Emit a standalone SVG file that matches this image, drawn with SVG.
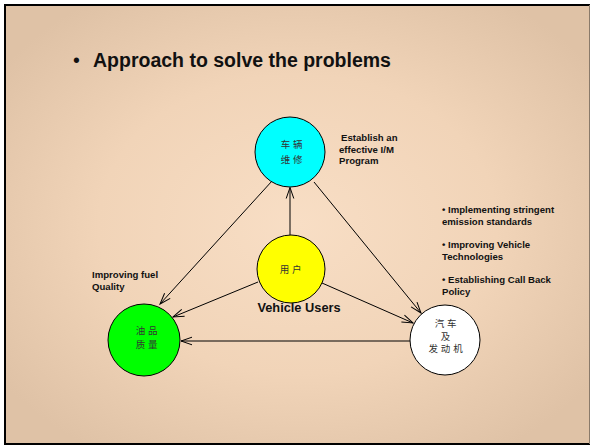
<svg xmlns="http://www.w3.org/2000/svg" width="592" height="446" viewBox="0 0 592 446">
  <defs>
    <radialGradient id="bg" cx="0.5" cy="0.5" r="0.62">
      <stop offset="0" stop-color="#F8DEC5"/>
      <stop offset="0.55" stop-color="#F1D4B8"/>
      <stop offset="1" stop-color="#DFC2A6"/>
    </radialGradient>
    <marker id="arr" markerUnits="userSpaceOnUse" markerWidth="14" markerHeight="10" refX="12" refY="5" orient="auto" viewBox="0 0 14 10">
      <path d="M1,1.2 L12,5 L1,8.8" fill="none" stroke="#000" stroke-width="1"/>
    </marker>
    <style>
      .lbl { font-family: "Liberation Sans", Arial, sans-serif; font-weight: bold; fill: #111; }
      .small { font-size: 9.6px; }
      .cjk { font-family: "Noto Sans CJK SC", sans-serif; font-size: 9.5px; fill: #333; letter-spacing: 2.8px; text-anchor: middle; }
      .node { stroke: #000; stroke-width: 1; }
      .conn { stroke: #000; stroke-width: 1; fill: none; marker-end: url(#arr); }
    </style>
  </defs>

  <rect x="5" y="5" width="585" height="439" fill="url(#bg)"/>
  <path d="M590,5 L5,5 L5,444 L590,444" fill="none" stroke="#000" stroke-width="2"/>
  <line x1="589.5" y1="5" x2="589.5" y2="444" stroke="#8a7a6a" stroke-width="1"/>

  <text class="lbl" x="73" y="67" font-size="19.5" style="font-weight:normal">•</text>
  <text class="lbl" x="93" y="67" font-size="19.5">Approach to solve the problems</text>

  <g id="connectors">
    <line class="conn" x1="290" y1="235" x2="290" y2="187.5"/>
    <line class="conn" x1="272" y1="181" x2="160" y2="304"/>
    <line class="conn" x1="314" y1="182" x2="421" y2="313"/>
    <line class="conn" x1="258" y1="282" x2="173" y2="317"/>
    <line class="conn" x1="322" y1="283" x2="413" y2="323"/>
    <line class="conn" x1="410" y1="341" x2="181" y2="341"/>
  </g>

  <g id="node-repair">
    <circle class="node" cx="290" cy="152" r="35" fill="#00FFFF"/>
    <text class="cjk" x="293" y="148">车辆</text>
    <text class="cjk" x="293" y="163">维修</text>
  </g>

  <g id="node-users">
    <circle class="node" cx="291" cy="269" r="34" fill="#FFFF00"/>
    <text class="cjk" x="292" y="273">用户</text>
    <text class="lbl" x="299" y="312" font-size="12.8" text-anchor="middle">Vehicle Users</text>
  </g>

  <g id="node-fuel">
    <circle class="node" cx="144" cy="340" r="36" fill="#00FF00"/>
    <text class="cjk" x="148" y="334">油品</text>
    <text class="cjk" x="148" y="348">质量</text>
  </g>

  <g id="node-vehicle">
    <circle class="node" cx="445" cy="340" r="35" fill="#FFFFFF"/>
    <text class="cjk" x="447" y="327">汽车</text>
    <text class="cjk" x="447" y="339.5">及</text>
    <text class="cjk" x="447" y="352">发动机</text>
  </g>

  <g id="label-im">
    <text class="lbl small" x="341" y="141">Establish an</text>
    <text class="lbl small" x="339" y="152.5">effective I/M</text>
    <text class="lbl small" x="339" y="164">Program</text>
  </g>

  <g id="label-fuel">
    <text class="lbl small" x="92" y="278">Improving fuel</text>
    <text class="lbl small" x="92" y="290">Quality</text>
  </g>

  <g id="label-vehicle">
    <text class="lbl small" x="442" y="213">• Implementing stringent</text>
    <text class="lbl small" x="442" y="225">emission standards</text>
    <text class="lbl small" x="442" y="248">• Improving Vehicle</text>
    <text class="lbl small" x="442" y="260">Technologies</text>
    <text class="lbl small" x="442" y="283">• Establishing Call Back</text>
    <text class="lbl small" x="442" y="295">Policy</text>
  </g>
</svg>
